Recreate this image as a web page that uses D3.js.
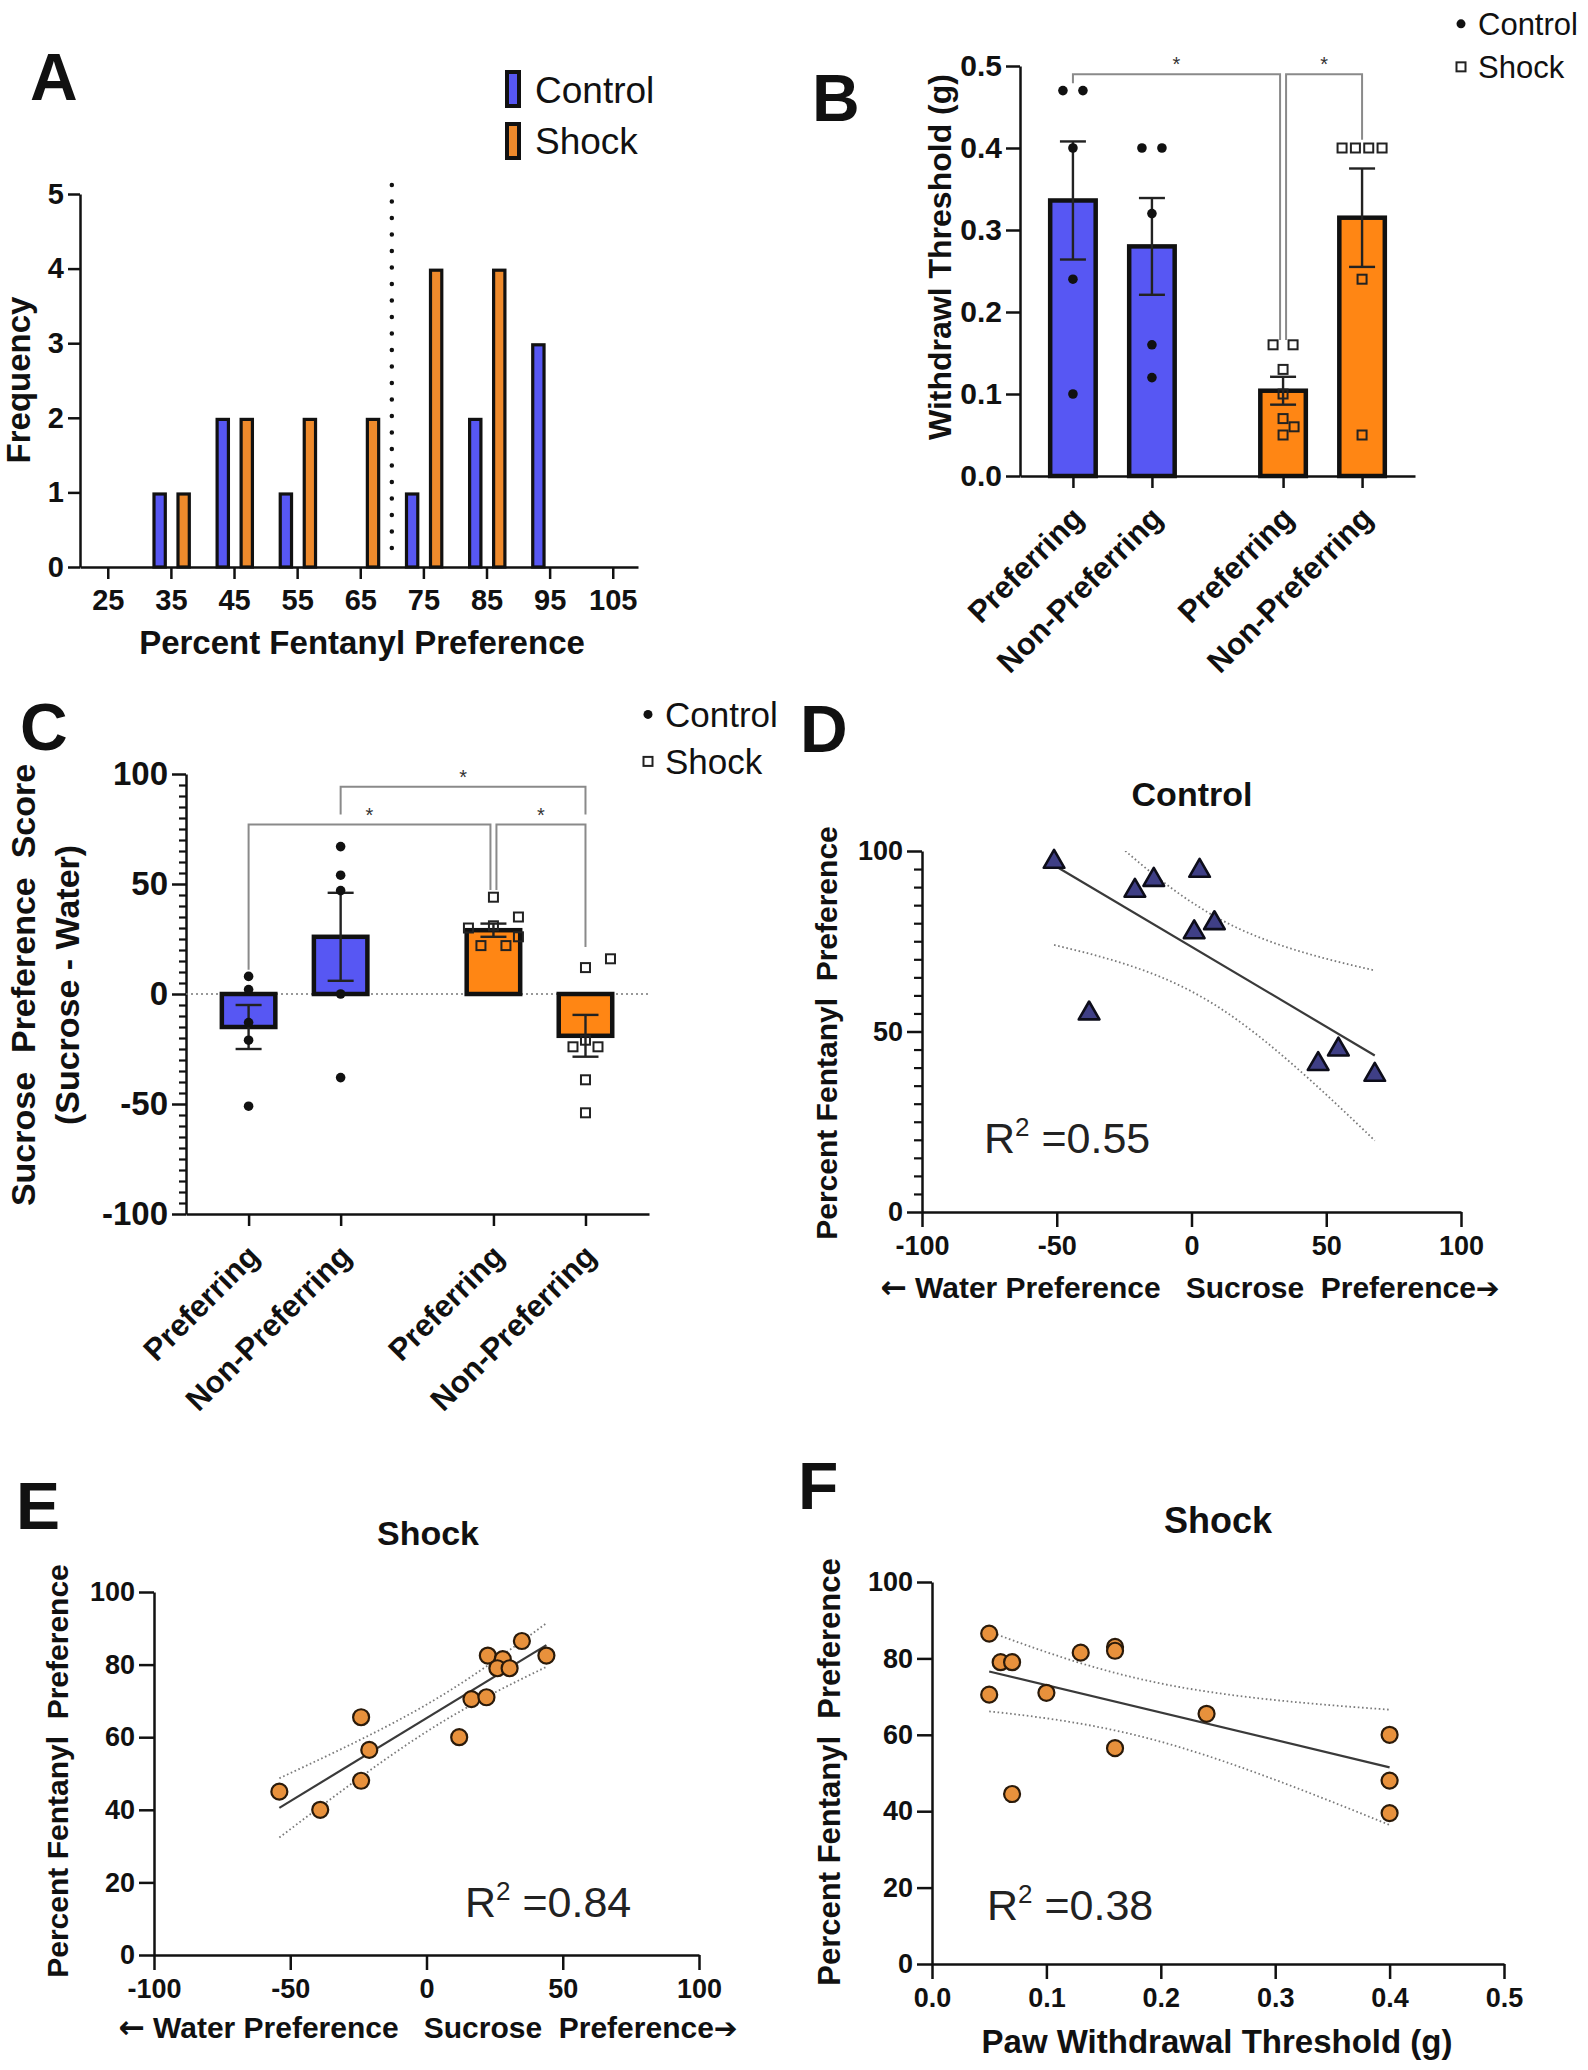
<!DOCTYPE html>
<html><head><meta charset="utf-8">
<script src="https://cdn.jsdelivr.net/npm/d3@7"></script>
<style>
body{margin:0;background:#fff}
svg{display:block}
text{font-family:"Liberation Sans",Arial,Helvetica,sans-serif;white-space:pre}
</style>
</head><body>
<svg id="fig" width="1588" height="2070"></svg>
<script>
// ---------------- DATA ----------------
// Panel A: histogram of percent fentanyl preference
const histBins = [25, 35, 45, 55, 65, 75, 85, 95, 105];
const histControl = [0, 1, 2, 1, 0, 1, 2, 3, 0];
const histShock = [0, 1, 2, 2, 2, 4, 4, 0, 0];
const histCutoff = 70;

// Panels B & C groups
const groupLabels = ["Preferring", "Non-Preferring", "Preferring", "Non-Preferring"];
const groupCond = ["Control", "Control", "Shock", "Shock"];

// Panel B: withdrawal threshold (g)
const pwtMean = [0.336, 0.28, 0.104, 0.315];
const pwtSem = [0.072, 0.059, 0.017, 0.06];
const pwtPoints = [
  [0.47, 0.47, 0.40, 0.24, 0.10],
  [0.40, 0.40, 0.32, 0.16, 0.12],
  [0.16, 0.16, 0.13, 0.10, 0.07, 0.05, 0.06],
  [0.40, 0.40, 0.40, 0.40, 0.24, 0.05]
];

// Panel C: sucrose preference score
const spsMean = [-15, 26, 29, -19];
const spsSem = [10, 20, 3, 9.5];
const spsPoints = [
  [8, 2, -13, -21, -51],
  [67, 54, 47, 0, -38],
  [44, 31, 35, 26, 22, 22, 30],
  [12, 16, -21, -24, -24, -39, -54]
];

// Panel D: control, sucrose score vs fentanyl preference
const ctrlSucrose = [-51, -38, -21, -14, 3, 1, 8.5, 47, 54.5, 68];
const ctrlFent = [97, 55, 89, 92, 94.5, 77.5, 80, 41, 45, 38];

// Panel E: shock, sucrose score vs fentanyl preference
const shockSucrose = [-54, -39, -24, -24, -21, 12, 16.5, 22, 22.5, 28, 26, 30.5, 35, 44];
const shockFentE = [45, 40, 65.5, 48, 56.5, 60, 70.5, 71, 82.5, 81.5, 79, 79, 86.5, 82.5];

// Panel F: shock, paw withdrawal threshold vs fentanyl preference
const shockPwt = [0.05, 0.06, 0.07, 0.05, 0.10, 0.13, 0.16, 0.16, 0.24, 0.16, 0.07, 0.40, 0.40, 0.40];
const shockFentF = [86.5, 79, 79, 70.5, 71, 81.5, 83, 82, 65.5, 56.5, 44.5, 60, 48, 39.5];

const r2Labels = {D: "0.55", E: "0.84", F: "0.38"};

// ---------------- STYLE ----------------
const FONT = '"Liberation Sans", Arial, Helvetica, sans-serif';
const INK = "#111";
const CTRL = "#5757F3";
const SHOCK = "#FF8614";
const HIST_SHOCK = "#EE8A2C";
const DOT_OR = "#E8913C";
const TRI = "#3F3F86";
const BRK = "#8a8a8a";

const svg = d3.select("#fig");

function styleAxis(g, fs, weight, sw) {
  g.select(".domain").attr("stroke", INK).attr("stroke-width", sw || 2.5);
  g.selectAll(".tick line").attr("stroke", INK).attr("stroke-width", sw || 2.5);
  g.selectAll(".tick text").attr("fill", INK).attr("font-size", fs)
    .attr("font-weight", weight || "bold").attr("font-family", FONT);
  return g;
}
function txt(x, y, s, o) {
  o = o || {};
  const t = svg.append("text").attr("x", x).attr("y", y).text(s)
    .attr("font-size", o.fs || 30).attr("font-weight", o.weight || "bold")
    .attr("text-anchor", o.anchor || "middle").attr("fill", o.fill || INK)
    .attr("font-family", FONT).attr("xml:space", "preserve");
  if (o.rot) t.attr("transform", `rotate(${o.rot},${x},${y})`);
  return t;
}
function minorAxisLeft(x, scale, vals, size) {
  const g = svg.append("g").attr("transform", `translate(${x},0)`)
    .call(d3.axisLeft(scale).tickValues(vals).tickSize(size).tickFormat(""));
  g.select(".domain").remove();
  g.selectAll(".tick line").attr("stroke", INK).attr("stroke-width", 2.2);
}
// rows of identical values are centred; other points pushed sideways when they collide
function beeswarm(vals, y, step, side, dmin, maxW) {
  const off = new Array(vals.length).fill(0);
  const placed = [];
  const rows = [];
  const seen = new Map();
  vals.forEach((v, i) => {
    if (!seen.has(v)) { seen.set(v, rows.length); rows.push({v, idx: []}); }
    rows[seen.get(v)].idx.push(i);
  });
  rows.forEach(r => {
    const k = r.idx.length;
    const sp = k > 1 ? Math.min(step, maxW / (k - 1)) : 0;
    const py = y(r.v);
    const cands = [0];
    for (let j = 1; j < 8; j++) cands.push(j * side, -j * side);
    for (const c of cands) {
      const xs = r.idx.map((_, j) => c + (j - (k - 1) / 2) * sp);
      if (xs.every(xx => placed.every(p => Math.hypot(p.x - xx, p.y - py) >= dmin))) {
        r.idx.forEach((i, j) => { off[i] = xs[j]; placed.push({x: xs[j], y: py}); });
        return;
      }
    }
    r.idx.forEach(i => placed.push({x: 0, y: py}));
  });
  return off;
}
function tInv975(df) {
  const z = 1.959964, z3 = z ** 3, z5 = z ** 5, z7 = z ** 7;
  return z + (z3 + z) / (4 * df) + (5 * z5 + 16 * z3 + 3 * z) / (96 * df * df)
    + (3 * z7 + 19 * z5 + 17 * z3 - 15 * z) / (384 * df ** 3);
}
function regress(xs, ys) {
  const n = xs.length, mx = d3.mean(xs), my = d3.mean(ys);
  let sxx = 0, sxy = 0, syy = 0;
  xs.forEach((x, i) => { sxx += (x - mx) ** 2; sxy += (x - mx) * (ys[i] - my); syy += (ys[i] - my) ** 2; });
  const b = sxy / sxx, a = my - b * mx;
  const s = Math.sqrt((syy - b * sxy) / (n - 2));
  const t = tInv975(n - 2);
  return {a, b, f: x => a + b * x,
    ci: x => t * s * Math.sqrt(1 / n + (x - mx) ** 2 / sxx)};
}

// ---------------- PANEL A ----------------
(function () {
  const xA = d3.scaleLinear().domain([20.6, 109]).range([80, 638]);
  const yA = d3.scaleLinear().domain([0, 5]).range([567, 194]);
  styleAxis(svg.append("g").attr("transform", "translate(0,567)")
    .call(d3.axisBottom(xA).tickValues(histBins).tickSize(12).tickSizeOuter(0).tickPadding(10).tickFormat(d => String(d))), 29);
  styleAxis(svg.append("g").attr("transform", "translate(80,0)")
    .call(d3.axisLeft(yA).ticks(5).tickSize(12).tickSizeOuter(0).tickPadding(4).tickFormat(d3.format("d"))), 29);

  const sw = 3.2;
  const bars = [];
  histBins.forEach((b, i) => {
    if (histControl[i] > 0) bars.push({x0: xA(b) - 18.5, x1: xA(b) - 4, v: histControl[i], c: CTRL});
    if (histShock[i] > 0) bars.push({x0: xA(b) + 5.5, x1: xA(b) + 20, v: histShock[i], c: HIST_SHOCK});
  });
  svg.append("g").selectAll("rect").data(bars).join("rect")
    .attr("x", d => d.x0 + sw / 2).attr("width", d => d.x1 - d.x0 - sw)
    .attr("y", d => yA(d.v) + sw / 2).attr("height", d => yA(0) - yA(d.v) - sw / 2)
    .attr("fill", d => d.c).attr("stroke", INK).attr("stroke-width", sw);

  svg.append("line").attr("x1", xA(histCutoff)).attr("x2", xA(histCutoff))
    .attr("y1", yA(5.12)).attr("y2", yA(0.2))
    .attr("stroke", INK).attr("stroke-width", 4.5).attr("stroke-linecap", "round")
    .attr("stroke-dasharray", "0,16.5");

  txt(30, 100, "A", {fs: 66, anchor: "start"});
  txt(362, 654, "Percent Fentanyl Preference", {fs: 33});
  txt(30, 380, "Frequency", {fs: 33, rot: -90});

  // legend
  [["Control", CTRL, 72, 103], ["Shock", HIST_SHOCK, 124, 154]].forEach(([lab, c, y, base]) => {
    svg.append("rect").attr("x", 507).attr("y", y).attr("width", 12).attr("height", 34)
      .attr("fill", c).attr("stroke", INK).attr("stroke-width", 4);
    txt(535, base, lab, {fs: 37, weight: "normal", anchor: "start"});
  });
})();

// ---------------- bar panel helper (B, C) ----------------
function barPanel(cfg) {
  const {x, y, means, sems, points, barW, brackets, yTickVals, yFmt, minor, fs} = cfg;
  const slots = groupLabels.map((d, i) => i + (i >= 2 ? 0.66 : 0));
  styleAxis(svg.append("g").attr("transform", `translate(${x.range()[0]},0)`)
    .call(d3.axisLeft(y).tickValues(yTickVals).tickSize(14).tickSizeOuter(0).tickPadding(4).tickFormat(yFmt)), fs);
  if (minor) minorAxisLeft(x.range()[0], y, minor, 7);
  const xAx = styleAxis(svg.append("g").attr("transform", `translate(0,${y.range()[0]})`)
    .call(d3.axisBottom(x).tickValues(slots).tickSize(12).tickSizeOuter(0)
      .tickFormat((d, i) => groupLabels[i])), 31);
  xAx.selectAll(".tick text").attr("x", 0).attr("y", 0).attr("dy", 0)
    .attr("text-anchor", "end").attr("transform", "translate(12,44) rotate(-45)");

  if (cfg.zeroLine) {
    svg.append("line").attr("x1", x.range()[0]).attr("x2", x.range()[1] - 1)
      .attr("y1", y(0)).attr("y2", y(0)).attr("stroke", "#777").attr("stroke-width", 1.6)
      .attr("stroke-dasharray", "2,3");
  }
  const sw = 4.5;
  const bars = means.map((m, i) => ({i, m, s: sems[i], cx: x(slots[i]), c: groupCond[i] === "Control" ? CTRL : SHOCK}));
  svg.append("g").selectAll("rect").data(bars).join("rect")
    .attr("x", d => d.cx - barW / 2 + sw / 2).attr("width", barW - sw)
    .attr("y", d => Math.min(y(d.m), y(0))).attr("height", d => Math.abs(y(0) - y(d.m)))
    .attr("fill", d => d.c).attr("stroke", INK).attr("stroke-width", sw);
  // error bars
  const eg = svg.append("g").attr("stroke", "#222").attr("stroke-width", 2.4);
  bars.forEach(d => {
    const y1 = y(d.m + d.s), y2 = y(d.m - d.s);
    eg.append("line").attr("x1", d.cx).attr("x2", d.cx).attr("y1", y1).attr("y2", y2);
    eg.append("line").attr("x1", d.cx - 13).attr("x2", d.cx + 13).attr("y1", y1).attr("y2", y1);
    eg.append("line").attr("x1", d.cx - 13).attr("x2", d.cx + 13).attr("y1", y2).attr("y2", y2);
  });
  // points
  points.forEach((vals, i) => {
    const offs = beeswarm(vals, y, cfg.swarmStep, cfg.swarmSide, 12, barW - 10);
    const cx = x(slots[i]);
    if (groupCond[i] === "Control") {
      svg.append("g").selectAll("circle").data(vals).join("circle")
        .attr("cx", (d, k) => cx + offs[k]).attr("cy", d => y(d)).attr("r", 4.8).attr("fill", INK);
    } else {
      svg.append("g").selectAll("rect").data(vals).join("rect")
        .attr("x", (d, k) => cx + offs[k] - 4.5).attr("y", d => y(d) - 4.5)
        .attr("width", 9).attr("height", 9).attr("fill", "none")
        .attr("stroke", "#222").attr("stroke-width", 2);
    }
  });
  // significance brackets
  const bg = svg.append("g").attr("fill", "none").attr("stroke", BRK).attr("stroke-width", 2);
  brackets.forEach(b => {
    const xa = x(slots[b.a]) + (b.da || 0), xb = x(slots[b.b]) + (b.db || 0);
    bg.append("path").attr("d", `M${xa},${y(b.ya)}V${y(b.y)}H${xb}V${y(b.yb)}`);
    txt((xa + xb) / 2, y(b.y) - 3, "*", {fs: 20, weight: "normal", fill: "#333"});
  });
  // legend
  const L = cfg.legend;
  svg.append("circle").attr("cx", L.x).attr("cy", L.y1 - L.fs * 0.36).attr("r", 4.5).attr("fill", INK);
  txt(L.x + 17, L.y1, "Control", {fs: L.fs, weight: "normal", anchor: "start"});
  svg.append("rect").attr("x", L.x - 4.5).attr("y", L.y2 - L.fs * 0.36 - 4.5).attr("width", 9).attr("height", 9)
    .attr("fill", "none").attr("stroke", "#222").attr("stroke-width", 2);
  txt(L.x + 17, L.y2, "Shock", {fs: L.fs, weight: "normal", anchor: "start"});
}

// ---------------- PANEL B ----------------
barPanel({
  x: d3.scaleLinear().domain([-0.67, 4.33]).range([1020, 1415]),
  y: d3.scaleLinear().domain([0, 0.5]).range([476, 66]),
  means: pwtMean, sems: pwtSem, points: pwtPoints, barW: 50, swarmStep: 20, swarmSide: 11,
  yTickVals: [0, 0.1, 0.2, 0.3, 0.4, 0.5], yFmt: d3.format(".1f"), fs: 30,
  brackets: [
    {a: 0, b: 2, db: -3, y: 0.49, ya: 0.479, yb: 0.166},
    {a: 2, b: 3, da: 3, y: 0.49, ya: 0.166, yb: 0.41}
  ],
  legend: {x: 1461, y1: 35, y2: 78, fs: 31}
});
txt(812, 121, "B", {fs: 66, anchor: "start"});
txt(951, 257, "Withdrawl Threshold (g)", {fs: 32, rot: -90});

// ---------------- PANEL C ----------------
barPanel({
  x: d3.scaleLinear().domain([-0.68, 4.35]).range([186, 649]),
  y: d3.scaleLinear().domain([-100, 100]).range([1214, 774]),
  means: spsMean, sems: spsSem, points: spsPoints, barW: 58, swarmStep: 25, swarmSide: 25,
  yTickVals: [-100, -50, 0, 50, 100], yFmt: d => String(d), fs: 33,
  minor: d3.range(-95, 100, 5).filter(v => v % 50 !== 0),
  zeroLine: true,
  brackets: [
    {a: 1, b: 3, y: 94.2, ya: 81.6, yb: 81.6},
    {a: 0, b: 2, db: -3, y: 77, ya: 11, yb: 47.3},
    {a: 2, b: 3, da: 3, y: 77, ya: 47.3, yb: 21.4}
  ],
  legend: {x: 648, y1: 727, y2: 774, fs: 35}
});
txt(20, 750, "C", {fs: 66, anchor: "start"});
txt(35, 985, "Sucrose  Preference  Score", {fs: 34, rot: -90});
txt(79, 985, "(Sucrose - Water)", {fs: 34, rot: -90});

// ---------------- scatter helper (D, E, F) ----------------
let clipId = 0;
function scatterPanel(cfg) {
  const {x, y, xs, ys, marker} = cfg;
  const x0 = x.range()[0], y0 = y.range()[0];
  styleAxis(svg.append("g").attr("transform", `translate(${x0},0)`)
    .call(d3.axisLeft(y).tickValues(cfg.yTicks).tickSize(15).tickSizeOuter(0).tickPadding(4).tickFormat(d => String(d))), cfg.tfs);
  if (cfg.minor) minorAxisLeft(x0, y, cfg.minor, 8);
  styleAxis(svg.append("g").attr("transform", `translate(0,${y0})`)
    .call(d3.axisBottom(x).tickValues(cfg.xTicks).tickSize(15).tickSizeOuter(0).tickPadding(9).tickFormat(cfg.xFmt)), cfg.tfs);

  const id = "clip" + (clipId++);
  svg.append("clipPath").attr("id", id).append("rect")
    .attr("x", x0).attr("y", y.range()[1]).attr("width", x.range()[1] - x0).attr("height", y0 - y.range()[1]);
  const reg = regress(xs, ys);
  const [mn, mx] = d3.extent(xs);
  const grid = d3.range(0, 81).map(k => mn + (mx - mn) * k / 80);
  const lg = svg.append("g").attr("clip-path", `url(#${id})`);
  [1, -1].forEach(sgn => {
    lg.append("path").attr("d", d3.line().x(d => x(d)).y(d => y(reg.f(d) + sgn * reg.ci(d)))(grid))
      .attr("fill", "none").attr("stroke", "#7a7a7a").attr("stroke-width", 1.8).attr("stroke-dasharray", "1.6,2.6");
  });
  lg.append("line").attr("x1", x(mn)).attr("x2", x(mx)).attr("y1", y(reg.f(mn))).attr("y2", y(reg.f(mx)))
    .attr("stroke", "#3a3a3a").attr("stroke-width", 2.2);

  const pts = xs.map((v, i) => [v, ys[i]]);
  if (marker === "tri") {
    svg.append("g").selectAll("path").data(pts).join("path")
      .attr("d", d3.symbol(d3.symbolTriangle, 185)())
      .attr("transform", d => `translate(${x(d[0])},${y(d[1])})`)
      .attr("fill", TRI).attr("stroke", "#0d0d1a").attr("stroke-width", 2.6).attr("stroke-linejoin", "round");
  } else {
    svg.append("g").selectAll("circle").data(pts).join("circle")
      .attr("cx", d => x(d[0])).attr("cy", d => y(d[1])).attr("r", 8)
      .attr("fill", DOT_OR).attr("stroke", "#2a1a0a").attr("stroke-width", 2.2);
  }
  // title, labels
  txt(cfg.title[0], cfg.title[1], cfg.title[2], {fs: cfg.title[3]});
  txt(cfg.ylab[0], cfg.ylab[1], "Percent Fentanyl  Preference", {fs: cfg.ylab[2], rot: -90});
  if (cfg.arrows) {
    const t = txt(cfg.xlab[0], cfg.xlab[1], "", {fs: cfg.xlab[3]});
    t.append("tspan").attr("font-family", '"DejaVu Sans"').attr("font-size", cfg.xlab[3] * 1.05).text("\u2190");
    t.append("tspan").text(" Water Preference   Sucrose  Preference");
    t.append("tspan").attr("font-family", '"DejaVu Sans"').attr("font-size", cfg.xlab[3] * 0.95).text("\u2794");
  } else {
    txt(cfg.xlab[0], cfg.xlab[1], cfg.xlab[2], {fs: cfg.xlab[3]});
  }
  txt(cfg.letter[0], cfg.letter[1], cfg.letter[2], {fs: 66, anchor: "start"});
  const r = txt(cfg.r2[0], cfg.r2[1], "R", {fs: 43, weight: "normal", anchor: "start", fill: "#222"});
  r.append("tspan").attr("font-size", 26).attr("dy", -17).text("2");
  r.append("tspan").attr("font-size", 43).attr("dy", 17).text(" =" + cfg.r2[2]);
}

// ---------------- PANEL D ----------------
scatterPanel({
  x: d3.scaleLinear().domain([-100, 100]).range([922, 1461]),
  y: d3.scaleLinear().domain([0, 100]).range([1212, 851]),
  xs: ctrlSucrose, ys: ctrlFent, marker: "tri",
  yTicks: [0, 50, 100], minor: d3.range(5, 100, 5).filter(v => v !== 50),
  xTicks: [-100, -50, 0, 50, 100], xFmt: d => String(d), tfs: 27,
  title: [1192, 806, "Control", 34],
  ylab: [837, 1033, 30],
  xlab: [1190, 1298, "", 30], arrows: true,
  letter: [800, 752, "D"],
  r2: [984, 1153, r2Labels.D]
});

// ---------------- PANEL E ----------------
scatterPanel({
  x: d3.scaleLinear().domain([-100, 100]).range([154, 699]),
  y: d3.scaleLinear().domain([0, 100]).range([1955, 1592]),
  xs: shockSucrose, ys: shockFentE, marker: "circle",
  yTicks: [0, 20, 40, 60, 80, 100],
  xTicks: [-100, -50, 0, 50, 100], xFmt: d => String(d), tfs: 27,
  title: [428, 1545, "Shock", 34],
  ylab: [68, 1771, 30],
  xlab: [428, 2038, "", 30], arrows: true,
  letter: [16, 1529, "E"],
  r2: [465, 1917, r2Labels.E]
});

// ---------------- PANEL F ----------------
scatterPanel({
  x: d3.scaleLinear().domain([0, 0.5]).range([932, 1504]),
  y: d3.scaleLinear().domain([0, 100]).range([1964, 1582]),
  xs: shockPwt, ys: shockFentF, marker: "circle",
  yTicks: [0, 20, 40, 60, 80, 100],
  xTicks: [0, 0.1, 0.2, 0.3, 0.4, 0.5], xFmt: d3.format(".1f"), tfs: 27,
  title: [1218, 1533, "Shock", 36],
  ylab: [840, 1772, 31],
  xlab: [1217, 2053, "Paw Withdrawal Threshold (g)", 33],
  letter: [798, 1509, "F"],
  r2: [987, 1920, r2Labels.F]
});
</script>
</body></html>
